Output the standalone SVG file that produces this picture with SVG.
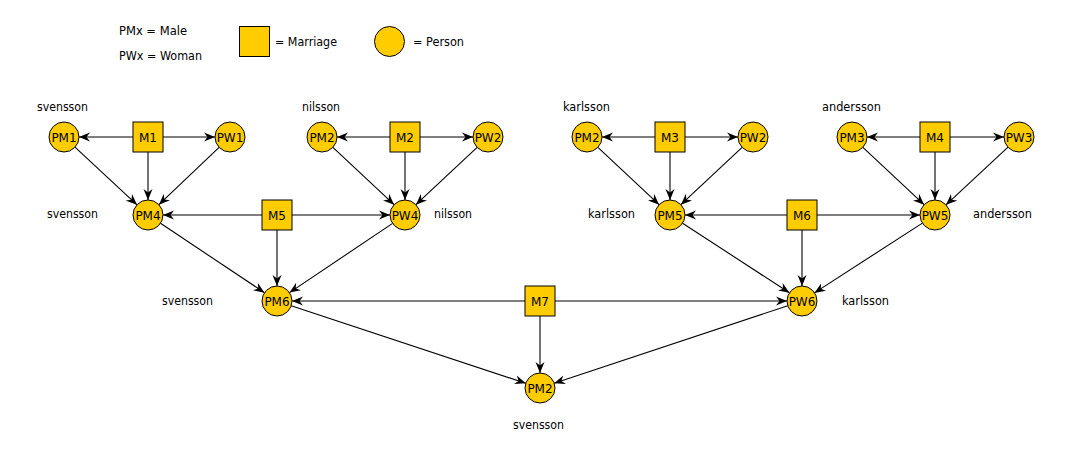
<svg xmlns="http://www.w3.org/2000/svg" width="1067" height="456" viewBox="0 0 1067 456">
<style>
text{font-family:"DejaVu Sans","Liberation Sans",sans-serif;font-size:12px;fill:#000}
.n text{text-anchor:middle}
.p{fill:#FFCC00;stroke:#000;stroke-width:1}
.e line{stroke:#000;stroke-width:1.1;marker-end:url(#a)}
</style>
<defs>
<marker id="a" markerUnits="userSpaceOnUse" viewBox="-11 -5 12 10" refX="0" refY="0" markerWidth="12" markerHeight="10" orient="auto">
<path d="M0,0 L-11,-4.5 L-7.5,0 L-11,4.5 Z" fill="#000"/>
</marker>
</defs>
<rect width="1067" height="456" fill="#fff"/>
<g id="legend">
<text x="119" y="35" textLength="68" lengthAdjust="spacingAndGlyphs">PMx = Male</text>
<text x="119" y="60" textLength="83" lengthAdjust="spacingAndGlyphs">PWx = Woman</text>
<rect class="p" x="239.5" y="26.5" width="30" height="30"/>
<text x="275" y="46" textLength="62" lengthAdjust="spacingAndGlyphs">= Marriage</text>
<circle class="p" cx="389.5" cy="41.5" r="15"/>
<text x="413" y="46" textLength="51" lengthAdjust="spacingAndGlyphs">= Person</text>
</g>
<g id="labels">
<text x="37" y="111" textLength="51" lengthAdjust="spacingAndGlyphs">svensson</text>
<text x="47" y="218" textLength="51" lengthAdjust="spacingAndGlyphs">svensson</text>
<text x="302" y="111" textLength="38" lengthAdjust="spacingAndGlyphs">nilsson</text>
<text x="434" y="218" textLength="38" lengthAdjust="spacingAndGlyphs">nilsson</text>
<text x="563" y="111" textLength="47" lengthAdjust="spacingAndGlyphs">karlsson</text>
<text x="588" y="218" textLength="47" lengthAdjust="spacingAndGlyphs">karlsson</text>
<text x="822" y="111" textLength="59" lengthAdjust="spacingAndGlyphs">andersson</text>
<text x="973" y="218" textLength="59" lengthAdjust="spacingAndGlyphs">andersson</text>
<text x="162" y="305" textLength="51" lengthAdjust="spacingAndGlyphs">svensson</text>
<text x="842" y="305" textLength="47" lengthAdjust="spacingAndGlyphs">karlsson</text>
<text x="513" y="429" textLength="51" lengthAdjust="spacingAndGlyphs">svensson</text>
</g>
<g id="connectors" class="e">
<line x1="133" y1="137" x2="79" y2="137"/>
<line x1="163" y1="137" x2="215" y2="137"/>
<line x1="148" y1="152" x2="148" y2="200"/>
<line x1="75" y1="147.2" x2="137" y2="204.8"/>
<line x1="219.1" y1="147.3" x2="158.9" y2="204.7"/>
<line x1="390" y1="137" x2="337" y2="137"/>
<line x1="420" y1="137" x2="473" y2="137"/>
<line x1="405" y1="152" x2="405" y2="200"/>
<line x1="332.9" y1="147.3" x2="394.1" y2="204.7"/>
<line x1="477.1" y1="147.3" x2="415.9" y2="204.7"/>
<line x1="262" y1="215" x2="163" y2="215"/>
<line x1="292" y1="215" x2="390" y2="215"/>
<line x1="277" y1="230" x2="277" y2="286"/>
<line x1="160.5" y1="223.3" x2="264.5" y2="292.7"/>
<line x1="392.6" y1="223.4" x2="289.5" y2="292.6"/>
<line x1="655" y1="137" x2="602" y2="137"/>
<line x1="685" y1="137" x2="738" y2="137"/>
<line x1="670" y1="152" x2="670" y2="200"/>
<line x1="597.9" y1="147.3" x2="659.1" y2="204.7"/>
<line x1="742.1" y1="147.3" x2="680.9" y2="204.7"/>
<line x1="920" y1="137" x2="867" y2="137"/>
<line x1="950" y1="137" x2="1004" y2="137"/>
<line x1="935" y1="152" x2="935" y2="200"/>
<line x1="862.9" y1="147.3" x2="924.1" y2="204.7"/>
<line x1="1008" y1="147.2" x2="946" y2="204.8"/>
<line x1="787" y1="215" x2="685" y2="215"/>
<line x1="817" y1="215" x2="920" y2="215"/>
<line x1="802" y1="230" x2="802" y2="286"/>
<line x1="682.6" y1="223.2" x2="789.4" y2="292.8"/>
<line x1="922.4" y1="223.1" x2="814.4" y2="292.9"/>
<line x1="525" y1="301" x2="292" y2="301"/>
<line x1="555" y1="301" x2="787" y2="301"/>
<line x1="540" y1="316" x2="540" y2="373"/>
<line x1="291.2" y1="305.7" x2="525.8" y2="383.3"/>
<line x1="787.8" y1="305.7" x2="554.2" y2="383.3"/>
</g>
<g class="n">
<g id="M1"><rect class="p" x="133" y="122" width="30" height="30"/><text x="148" y="141.5">M1</text></g>
<g id="PM1"><circle class="p" cx="64" cy="137" r="15"/><text x="64" y="141.5">PM1</text></g>
<g id="PW1"><circle class="p" cx="230" cy="137" r="15"/><text x="230" y="141.5">PW1</text></g>
<g id="PM4"><circle class="p" cx="148" cy="215" r="15"/><text x="148" y="219.5">PM4</text></g>
<g id="M2"><rect class="p" x="390" y="122" width="30" height="30"/><text x="405" y="141.5">M2</text></g>
<g id="PM2-nilsson"><circle class="p" cx="322" cy="137" r="15"/><text x="322" y="141.5">PM2</text></g>
<g id="PW2-nilsson"><circle class="p" cx="488" cy="137" r="15"/><text x="488" y="141.5">PW2</text></g>
<g id="PW4"><circle class="p" cx="405" cy="215" r="15"/><text x="405" y="219.5">PW4</text></g>
<g id="M5"><rect class="p" x="262" y="200" width="30" height="30"/><text x="277" y="219.5">M5</text></g>
<g id="PM6"><circle class="p" cx="277" cy="301" r="15"/><text x="277" y="305.5">PM6</text></g>
<g id="M3"><rect class="p" x="655" y="122" width="30" height="30"/><text x="670" y="141.5">M3</text></g>
<g id="PM2-karlsson"><circle class="p" cx="587" cy="137" r="15"/><text x="587" y="141.5">PM2</text></g>
<g id="PW2-karlsson"><circle class="p" cx="753" cy="137" r="15"/><text x="753" y="141.5">PW2</text></g>
<g id="PM5"><circle class="p" cx="670" cy="215" r="15"/><text x="670" y="219.5">PM5</text></g>
<g id="M4"><rect class="p" x="920" y="122" width="30" height="30"/><text x="935" y="141.5">M4</text></g>
<g id="PM3"><circle class="p" cx="852" cy="137" r="15"/><text x="852" y="141.5">PM3</text></g>
<g id="PW3"><circle class="p" cx="1019" cy="137" r="15"/><text x="1019" y="141.5">PW3</text></g>
<g id="PW5"><circle class="p" cx="935" cy="215" r="15"/><text x="935" y="219.5">PW5</text></g>
<g id="M6"><rect class="p" x="787" y="200" width="30" height="30"/><text x="802" y="219.5">M6</text></g>
<g id="PW6"><circle class="p" cx="802" cy="301" r="15"/><text x="802" y="305.5">PW6</text></g>
<g id="M7"><rect class="p" x="525" y="286" width="30" height="30"/><text x="540" y="305.5">M7</text></g>
<g id="PM2-svensson"><circle class="p" cx="540" cy="388" r="15"/><text x="540" y="392.5">PM2</text></g>
</g>
</svg>
